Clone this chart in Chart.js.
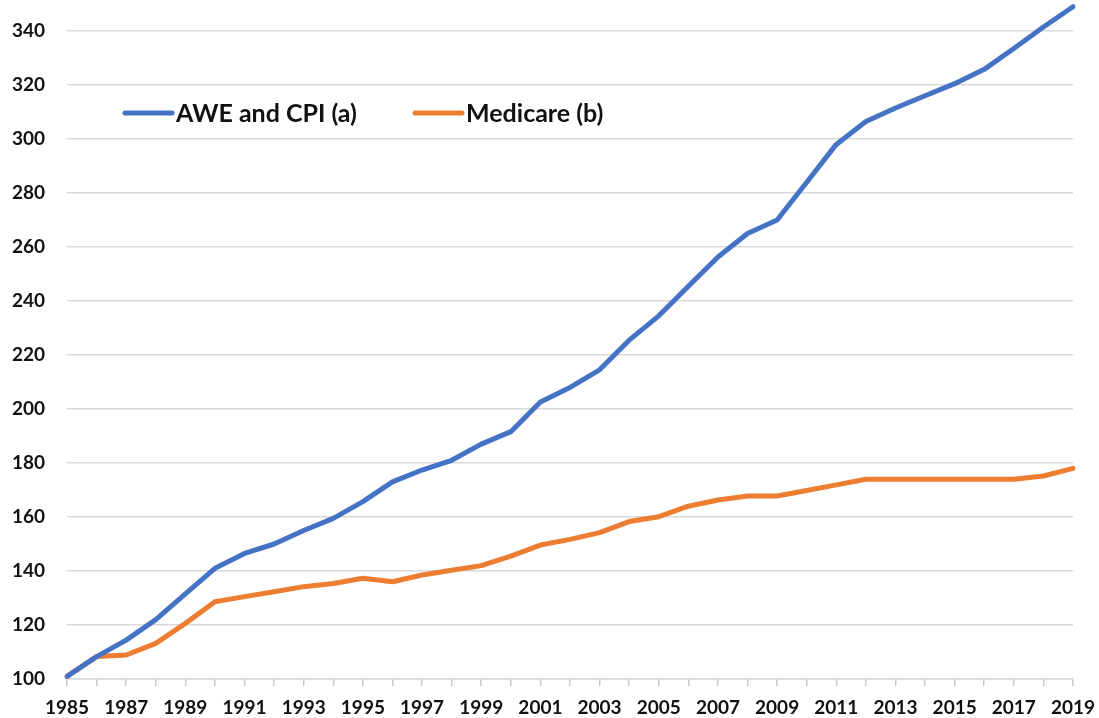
<!DOCTYPE html>
<html lang="en">
<head>
    <meta charset="UTF-8">
    <title>AWE and CPI vs Medicare</title>
    <script src="https://cdn.jsdelivr.net/npm/chart.js@4.4.0/dist/chart.umd.min.js"></script>
    <style>
        body {
            margin: 0;
            background: white;
        }
        .chart-container {
            position: relative;
            width: 1099px;
            height: 718px;
        }
    </style>
</head>
<body>
    <div class="chart-container">
        <canvas id="indexChart"></canvas>
    </div>

    <script>
        const years = [
            '1985', '1986', '1987', '1988', '1989', '1990', '1991', '1992', '1993', '1994',
            '1995', '1996', '1997', '1998', '1999', '2000', '2001', '2002', '2003', '2004',
            '2005', '2006', '2007', '2008', '2009', '2010', '2011', '2012', '2013', '2014',
            '2015', '2016', '2017', '2018', '2019'
        ];
        const aweCpi = [
            101, 108.3, 114.4, 122, 131.5, 141, 146.5, 150, 155, 159.5,
            165.7, 173, 177.4, 181, 187, 191.6, 202.6, 208, 214.5, 225.5,
            234.5, 245.5, 256.3, 265, 270, 284, 298, 306.5, 311.5, 316,
            320.5, 325.8, 333.5, 341.5, 349
        ];
        const medicare = [
            101, 108.3, 108.9, 113.2, 120.6, 128.6, 130.5, 132.3, 134.2, 135.4,
            137.3, 136, 138.5, 140.3, 142, 145.5, 149.6, 151.7, 154.2, 158.3,
            160.1, 164, 166.3, 167.8, 167.8, 169.8, 171.9, 174, 174, 174,
            174, 174, 174, 175.2, 178
        ];
        const yTicks = [100, 120, 140, 160, 180, 200, 220, 240, 260, 280, 300, 320, 340];

        const tickFont = { family: 'Lato', weight: 'bold', size: 19 };

        // legend sits inside the plot, top left
        const insideLegend = {
            id: 'insideLegend',
            afterDraw(chart) {
                const ctx = chart.ctx;
                const area = chart.chartArea;
                const y = area.top + 109;
                const spots = [area.left + 58, area.left + 348];
                ctx.save();
                ctx.font = 'bold 25px Lato';
                ctx.textBaseline = 'middle';
                chart.data.datasets.forEach((ds, i) => {
                    const x = spots[i];
                    ctx.strokeStyle = ds.borderColor;
                    ctx.lineWidth = 5;
                    ctx.lineCap = 'round';
                    ctx.beginPath();
                    ctx.moveTo(x, y);
                    ctx.lineTo(x + 47, y);
                    ctx.stroke();
                    ctx.fillStyle = '#111';
                    ctx.fillText(ds.label, x + 51, y + 1);
                });
                ctx.restore();
            }
        };

        const ctx = document.getElementById('indexChart').getContext('2d');
        new Chart(ctx, {
            type: 'line',
            data: {
                labels: years,
                datasets: [
                    {
                        label: 'AWE and CPI (a)',
                        data: aweCpi,
                        borderColor: '#4472C4',
                        borderWidth: 5,
                        pointRadius: 0,
                        tension: 0,
                        borderCapStyle: 'round',
                        borderJoinStyle: 'round'
                    },
                    {
                        label: 'Medicare (b)',
                        data: medicare,
                        borderColor: '#ED7D31',
                        borderWidth: 5,
                        pointRadius: 0,
                        tension: 0,
                        borderCapStyle: 'round',
                        borderJoinStyle: 'round'
                    }
                ]
            },
            options: {
                responsive: true,
                maintainAspectRatio: false,
                animation: false,
                layout: {
                    padding: { top: 4, right: 26, left: 0, bottom: 0 }
                },
                plugins: {
                    legend: { display: false },
                    tooltip: { enabled: false }
                },
                scales: {
                    x: {
                        offset: false,
                        afterFit(scale) {
                            scale.height = 39;
                            scale.paddingLeft = 0;
                            scale.paddingRight = 0;
                        },
                        grid: {
                            drawOnChartArea: false,
                            drawTicks: true,
                            tickLength: 7,
                            color: '#c8c8c8',
                            lineWidth: 1.5
                        },
                        border: { color: '#d9d9d9', width: 1.5 },
                        ticks: {
                            autoSkip: false,
                            maxRotation: 0,
                            padding: 10,
                            color: '#111',
                            font: tickFont,
                            callback: function (val, i) {
                                return i % 2 === 0 ? this.getLabelForValue(val) : '';
                            }
                        }
                    },
                    y: {
                        min: 100,
                        max: 350,
                        afterFit(scale) {
                            scale.width = 67;
                            scale.paddingTop = 0;
                            scale.paddingBottom = 0;
                        },
                        afterBuildTicks(scale) {
                            scale.ticks = yTicks.map(v => ({ value: v }));
                        },
                        grid: {
                            color: '#d9d9d9',
                            lineWidth: 1.5,
                            drawTicks: true,
                            tickLength: 22,
                            tickColor: 'rgba(0,0,0,0)'
                        },
                        border: { display: false },
                        ticks: {
                            padding: 0,
                            color: '#111',
                            font: tickFont
                        }
                    }
                }
            },
            plugins: [insideLegend]
        });
    </script>
</body>
</html>
